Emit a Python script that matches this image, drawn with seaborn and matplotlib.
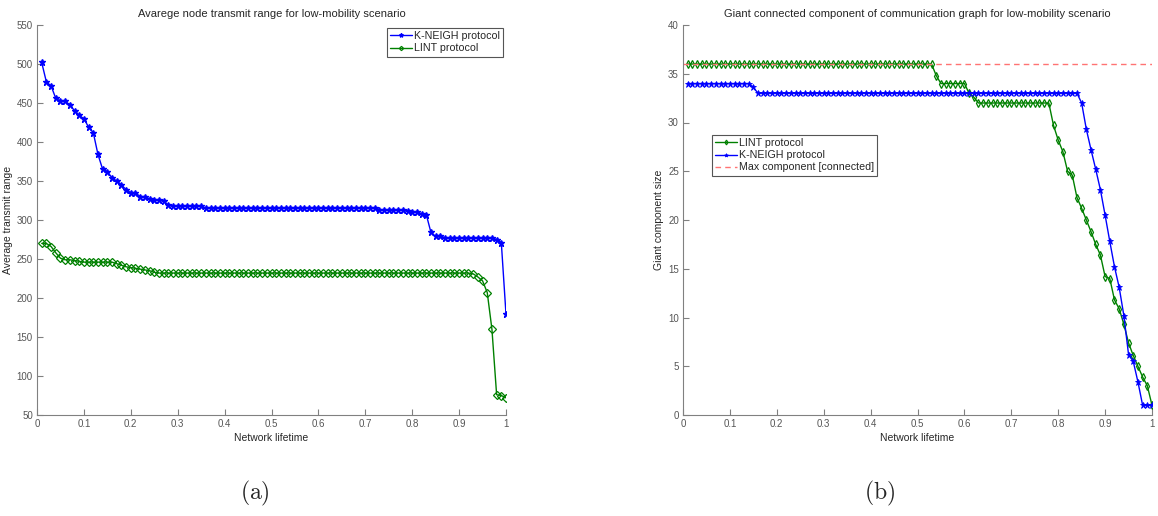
import numpy as np
import pandas as pd
import matplotlib
matplotlib.use("Agg")
import matplotlib.pyplot as plt
import seaborn as sns

# ---------------- data ----------------
lifetime = np.round(np.arange(1, 101) * 0.01, 2)

range_kneigh = ([502, 477, 472, 456, 452, 452, 448, 440, 434, 430,
                 419, 412, 384, 365, 362, 354, 350, 345, 339, 335,
                 335, 330, 330, 327, 326, 326, 324, 319]
                + [318] * 7 + [315] * 37 + [313] * 6
                + [311, 310, 310, 308, 307, 284, 279, 280]
                + [277] * 11 + [275, 271, 179])

range_lint = ([270, 270, 266, 258, 251, 249, 249, 248, 247]
              + [246] * 7 + [244, 242, 240, 239, 238, 237, 236, 235, 233]
              + [232] * 67 + [231, 227, 222, 207, 160, 76, 75, 72])

gcc_lint = ([36] * 53 + [34.8] + [34] * 6 + [33, 32.6] + [32] * 16
            + [29.7, 28.2, 27.0, 25.0, 24.6, 22.3, 21.2, 20.0, 18.8, 17.5, 16.4,
               14.2, 14.0, 11.8, 10.9, 9.3, 7.4, 6.1, 5.0, 3.9, 3.0, 1.0])

gcc_kneigh = ([34] * 14 + [33.6] + [33] * 69
              + [32.0, 29.3, 27.2, 25.2, 23.1, 20.5, 17.8, 15.2, 13.1, 10.2,
                 6.2, 5.5, 3.4, 1, 1, 1])

max_component_x = [0, 1]
max_component_y = [36, 36]

x_ticks = [0, 0.1, 0.2, 0.3, 0.4, 0.5, 0.6, 0.7, 0.8, 0.9, 1]
x_ticklabels = ["0", "0.1", "0.2", "0.3", "0.4", "0.5", "0.6", "0.7", "0.8", "0.9", "1"]
left_yticks = [50, 100, 150, 200, 250, 300, 350, 400, 450, 500, 550]
right_yticks = [0, 5, 10, 15, 20, 25, 30, 35, 40]

# ---------------- style ----------------
sns.set_style("white")
plt.rcParams['font.family'] = ['Liberation Sans', 'DejaVu Sans']
plt.rcParams['mathtext.fontset'] = 'cm'

BLUE = (0, 0, 1)
GREEN = (0, 0.5, 0)
RED = (1, 0.45, 0.45)
AXC = "#808080"

fig = plt.figure(figsize=(11.58, 5.16), dpi=100)
axL = fig.add_axes([37 / 1158, 1 - 415 / 516, 469 / 1158, 390 / 516])
axR = fig.add_axes([683 / 1158, 1 - 415 / 516, 469 / 1158, 390 / 516])

df_left = pd.DataFrame({"x": lifetime, "kneigh": range_kneigh, "lint": range_lint})
df_right = pd.DataFrame({"x": lifetime, "kneigh": gcc_kneigh, "lint": gcc_lint})

# left panel
sns.lineplot(data=df_left, x="x", y="kneigh", ax=axL, color=BLUE, lw=1.0,
             marker="*", markersize=5, markeredgewidth=1.0, markeredgecolor=BLUE,
             label="K-NEIGH protocol")
sns.lineplot(data=df_left, x="x", y="lint", ax=axL, color=GREEN, lw=1.0,
             marker="D", markersize=3.6, markerfacecolor="none", markeredgecolor=GREEN,
             markeredgewidth=0.9, label="LINT protocol")

# right panel
sns.lineplot(data=df_right, x="x", y="lint", ax=axR, color=GREEN, lw=1.0,
             marker="d", markersize=4, markerfacecolor="none", markeredgecolor=GREEN,
             markeredgewidth=0.9, label="LINT protocol")
sns.lineplot(data=df_right, x="x", y="kneigh", ax=axR, color=BLUE, lw=1.0,
             marker="*", markersize=4.5, markeredgewidth=0.6, markeredgecolor=BLUE,
             label="K-NEIGH protocol")
sns.lineplot(x=max_component_x, y=max_component_y, ax=axR, color=RED, lw=1.0,
             linestyle=(0, (4, 3)), label="Max component [connected]")

for ax, yt, ylim in ((axL, left_yticks, (50, 550)), (axR, right_yticks, (0, 40))):
    ax.set_xlim(0, 1)
    ax.set_ylim(*ylim)
    ax.set_xticks(x_ticks)
    ax.set_xticklabels(x_ticklabels)
    ax.set_yticks(yt)
    ax.set_yticklabels([str(v) for v in yt])
    ax.tick_params(direction="in", length=4, width=0.8, colors=AXC,
                   labelsize=7, labelcolor="#555555", pad=3,
                   bottom=True, left=True)
    for s in ("top", "right"):
        ax.spines[s].set_visible(False)
    for s in ("left", "bottom"):
        ax.spines[s].set_color(AXC)
        ax.spines[s].set_linewidth(0.8)
    ax.set_xlabel("Network lifetime", fontsize=7.5, labelpad=3)

axL.set_ylabel("Average transmit range", fontsize=7.5, labelpad=3)
axR.set_ylabel("Giant component size", fontsize=7.5, labelpad=3)
axL.set_title("Avarege node transmit range for low-mobility scenario", fontsize=8, pad=6)
axR.set_title("Giant connected component of communication graph for low-mobility scenario",
              fontsize=8, pad=6)

leg_kw = dict(bbox_transform=fig.transFigure, fontsize=7.7, frameon=True,
              fancybox=False, edgecolor="#555555", framealpha=1,
              handlelength=2.0, handletextpad=0.2, borderpad=0.3,
              labelspacing=0.2, borderaxespad=0, markerscale=0.6)
legL = axL.legend(loc="upper right", bbox_to_anchor=(503 / 1158, 1 - 28 / 516), **leg_kw)
legL.get_frame().set_linewidth(0.8)
legR = axR.legend(loc="upper left", bbox_to_anchor=(712 / 1158, 1 - 135 / 516), **leg_kw)
legR.get_frame().set_linewidth(0.8)

fig.text(255 / 1158, 1 - 493 / 516, r"$\mathrm{(a)}$", fontsize=17, ha="center", va="center")
fig.text(880 / 1158, 1 - 493 / 516, r"$\mathrm{(b)}$", fontsize=17, ha="center", va="center")

fig.savefig("out.png", dpi=100)
